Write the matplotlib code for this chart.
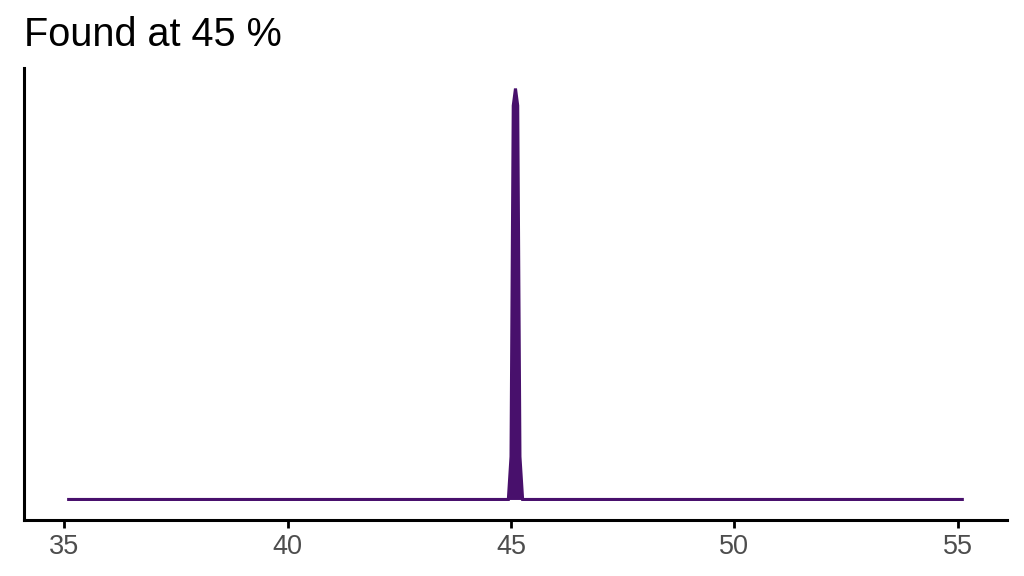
import numpy as np
import matplotlib
matplotlib.use("Agg")
import matplotlib.pyplot as plt

plt.rcParams["font.family"] = ["Liberation Sans", "DejaVu Sans"]

# density estimate (x in %, y density)
dens_x = [35.1, 44.94, 45.0, 45.05, 45.10, 45.15, 45.20, 45.26, 55.1]
dens_y = [0.0, 0.0, 0.5, 4.6, 4.8, 4.6, 0.5, 0.0, 0.0]
xticks = [35, 40, 45, 50, 55]
title = "Found at 45 %"
col = "#48106c"

fig = plt.figure(figsize=(10.24, 5.76), dpi=100)
ax = fig.add_axes([0.0234, 0.0972, 0.96, 0.7848])

ax.fill_between(dens_x, dens_y, 0, color=col, linewidth=0)
ax.plot(dens_x, dens_y, color=col, linewidth=2.2, solid_joinstyle="miter")

ymax = max(dens_y)
ax.set_xlim(34.1, 56.1)
ax.set_ylim(-0.05 * ymax, 1.05 * ymax)
ax.set_xticks(xticks)
ax.set_yticks([])
ax.tick_params(axis="x", length=6, width=2, colors="black", labelcolor="#4d4d4d",
               labelsize=19.5, pad=4)
for s in ["top", "right"]:
    ax.spines[s].set_visible(False)
for s in ["left", "bottom"]:
    ax.spines[s].set_linewidth(2.2)

fig.text(0.0234, 1 - 46 / 576, title, fontsize=28.5, ha="left", va="baseline")

fig.savefig("out.png", dpi=100)
